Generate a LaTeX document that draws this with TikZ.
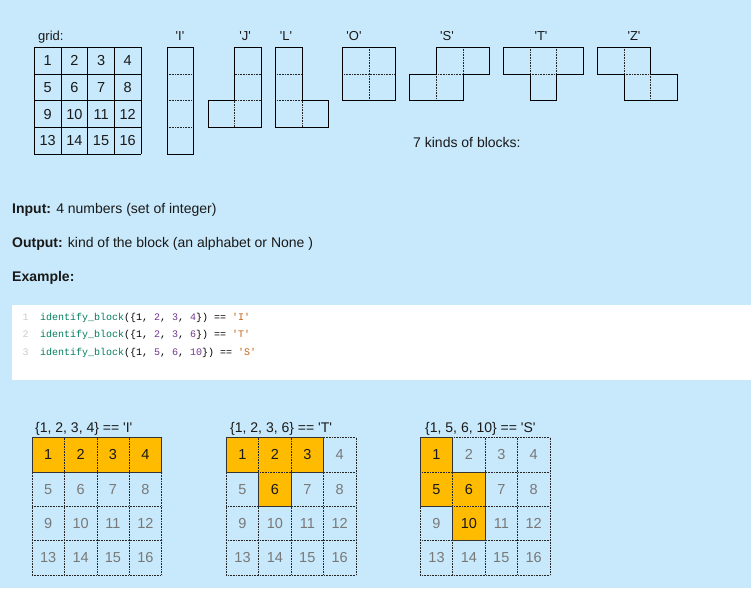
\documentclass[tikz,border=0pt]{standalone}
\usepackage{fontspec}
\setmainfont{Liberation Sans}[Ligatures=TeXOff]
\setmonofont{Liberation Mono}
\usepackage{xcolor}
\definecolor{pagebg}{RGB}{200,233,251}
\definecolor{blockorange}{RGB}{255,187,0}
\definecolor{numgray}{RGB}{120,120,120}
\definecolor{codegreen}{RGB}{0,125,95}
\definecolor{codepurple}{RGB}{115,55,145}
\definecolor{codeorange}{RGB}{195,100,20}
\tikzset{
	txt/.style={inner sep=0pt,anchor=base west,text=black!90,font=\fontsize{14}{16}\selectfont},
	lbl/.style={inner sep=0pt,anchor=base,text=black!90,font=\fontsize{13}{15}\selectfont},
	num/.style={inner sep=0pt,text=black!90,font=\fontsize{14.5}{16}\selectfont},
	dimnum/.style={num,text=numgray},
	solidline/.style={line width=0.8pt,black},
	dotline/.style={dash pattern=on 0.8pt off 0.8pt,line width=0.6pt,black!85},
	hlline/.style={line width=0.9pt,black!80},
	codetext/.style={inner sep=0pt,anchor=base west,text=black,font=\ttfamily\fontsize{10}{12}\selectfont},
	linenum/.style={codetext,anchor=base,text=black!20}
}

\begin{document}
\begin{tikzpicture}[x=1pt,y=-1pt]
	\fill[pagebg] (0,0) rectangle (751,588);
	\useasboundingbox (0,0) rectangle (751,588);
	\fill[white] (12,305) rectangle (751,380);
	
	% numbered grid
	\node[txt,font=\fontsize{13}{15}\selectfont] (gridlbl) at (38,41) {grid:};
	\begin{scope}[shift={(34.3,47.3)},x=26.7pt,y=-26.7pt]
		\foreach \i in {0,...,4} {
			\draw[solidline] (\i,0)--(\i,4);
			\draw[solidline] (0,\i)--(4,\i);
		}
		\foreach \r in {0,...,3}
			\foreach \c in {0,...,3} {
				\pgfmathtruncatemacro\n{4*\r+\c+1}
				\node[num] (g\n) at (\c+.5,\r+.5) {\n};
			}
	\end{scope}
	
	% the seven blocks
	\node[lbl] (lblI) at (180,41) {'I'};
	\begin{scope}[shift={(167,47.3)},x=26.7pt,y=-26.7pt]
		\draw[dotline] (0,1)--(1,1) (0,2)--(1,2) (0,3)--(1,3);
		\draw[solidline] (0,0) rectangle (1,4);
	\end{scope}
	\node[lbl] (lblJ) at (245,41) {'J'};
	\begin{scope}[shift={(208,47.3)},x=26.7pt,y=-26.7pt]
		\draw[dotline] (1,1)--(2,1) (1,2)--(2,2) (1,2)--(1,3);
		\draw[solidline] (1,0)--(2,0)--(2,3)--(0,3)--(0,2)--(1,2)--cycle;
	\end{scope}
	\node[lbl] (lblL) at (286,41) {'L'};
	\begin{scope}[shift={(275.3,47.3)},x=26.7pt,y=-26.7pt]
		\draw[dotline] (0,1)--(1,1) (0,2)--(1,2) (1,2)--(1,3);
		\draw[solidline] (0,0)--(1,0)--(1,2)--(2,2)--(2,3)--(0,3)--cycle;
	\end{scope}
	\node[lbl] (lblO) at (354,41) {'O'};
	\begin{scope}[shift={(342.3,47.3)},x=26.7pt,y=-26.7pt]
		\draw[dotline] (1,0)--(1,2) (0,1)--(2,1);
		\draw[solidline] (0,0) rectangle (2,2);
	\end{scope}
	\node[lbl] (lblS) at (447,41) {'S'};
	\begin{scope}[shift={(409.7,47.3)},x=26.7pt,y=-26.7pt]
		\draw[dotline] (2,0)--(2,1) (1,1)--(2,1) (1,1)--(1,2);
		\draw[solidline] (1,0)--(3,0)--(3,1)--(2,1)--(2,2)--(0,2)--(0,1)--(1,1)--cycle;
	\end{scope}
	\node[lbl] (lblT) at (541,41) {'T'};
	\begin{scope}[shift={(503.3,47.3)},x=26.7pt,y=-26.7pt]
		\draw[dotline] (1,0)--(1,1) (2,0)--(2,1) (1,1)--(2,1);
		\draw[solidline] (0,0)--(3,0)--(3,1)--(2,1)--(2,2)--(1,2)--(1,1)--(0,1)--cycle;
	\end{scope}
	\node[lbl] (lblZ) at (634,41) {'Z'};
	\begin{scope}[shift={(597.3,47.3)},x=26.7pt,y=-26.7pt]
		\draw[dotline] (1,0)--(1,1) (1,1)--(2,1) (2,1)--(2,2);
		\draw[solidline] (0,0)--(2,0)--(2,1)--(3,1)--(3,2)--(1,2)--(1,1)--(0,1)--cycle;
	\end{scope}
	\node[txt] (kinds) at (413,148) {7 kinds of blocks:};
	
	% description
	\node[txt] (input) at (12,213.3) {\textbf{Input:} 4 numbers (set of integer)};
	\node[txt] (output) at (12,247.3) {\textbf{Output:} kind of the block (an alphabet or None )};
	\node[txt] (example) at (12,281.7) {\textbf{Example:}};
	
	% code
	\node[linenum] (ln1) at (25.5,320.5) {1};
	\node[linenum] (ln2) at (25.5,337.5) {2};
	\node[linenum] (ln3) at (25.5,355) {3};
	\node[codetext] (code1) at (40,320.5) {\textcolor{codegreen}{identify\_block}(\{1, \textcolor{codepurple}{2}, \textcolor{codepurple}{3}, \textcolor{codepurple}{4}\}) == \textcolor{codeorange}{'I'}};
	\node[codetext] (code2) at (40,337.5) {\textcolor{codegreen}{identify\_block}(\{1, \textcolor{codepurple}{2}, \textcolor{codepurple}{3}, \textcolor{codepurple}{6}\}) == \textcolor{codeorange}{'T'}};
	\node[codetext] (code3) at (40,355) {\textcolor{codegreen}{identify\_block}(\{1, \textcolor{codepurple}{5}, \textcolor{codepurple}{6}, \textcolor{codepurple}{10}\}) == \textcolor{codeorange}{'S'}};
	
	% example 'I'
	\node[txt] (ex1) at (35,432.7) {\{1, 2, 3, 4\} == 'I'};
	\begin{scope}[shift={(32,437.7)},x=32.4pt,y=-34.3pt]
		\foreach \r in {0,...,3}
			\foreach \c in {0,...,3} {
				\pgfmathtruncatemacro\n{4*\r+\c+1}
				\node[dimnum] (a\n) at (\c+.5,\r+.5) {\n};
			}
		\foreach \n/\c/\r in {1/0/0,2/1/0,3/2/0,4/3/0} {
			\fill[blockorange] (\c,\r) rectangle ++(1,1);
			\node[num] (ah\n) at (\c+.5,\r+.5) {\n};
		}
		\foreach \i in {0,...,4} {
			\draw[dotline] (\i,0)--(\i,4);
			\draw[dotline] (0,\i)--(4,\i);
		}
		\draw[hlline] (0,0) rectangle (4,1);
	\end{scope}
	
	% example 'T'
	\node[txt] (ex2) at (230,432.7) {\{1, 2, 3, 6\} == 'T'};
	\begin{scope}[shift={(226.3,437.7)},x=32.4pt,y=-34.3pt]
		\foreach \r in {0,...,3}
			\foreach \c in {0,...,3} {
				\pgfmathtruncatemacro\n{4*\r+\c+1}
				\node[dimnum] (b\n) at (\c+.5,\r+.5) {\n};
			}
		\foreach \n/\c/\r in {1/0/0,2/1/0,3/2/0,6/1/1} {
			\fill[blockorange] (\c,\r) rectangle ++(1,1);
			\node[num] (bh\n) at (\c+.5,\r+.5) {\n};
		}
		\foreach \i in {0,...,4} {
			\draw[dotline] (\i,0)--(\i,4);
			\draw[dotline] (0,\i)--(4,\i);
		}
		\draw[hlline] (0,0)--(3,0)--(3,1)--(2,1)--(2,2)--(1,2)--(1,1)--(0,1)--cycle;
	\end{scope}
	
	% example 'S'
	\node[txt] (ex3) at (425,432.7) {\{1, 5, 6, 10\} == 'S'};
	\begin{scope}[shift={(420.3,437.7)},x=32.4pt,y=-34.3pt]
		\foreach \r in {0,...,3}
			\foreach \c in {0,...,3} {
				\pgfmathtruncatemacro\n{4*\r+\c+1}
				\node[dimnum] (c\n) at (\c+.5,\r+.5) {\n};
			}
		\foreach \n/\c/\r in {1/0/0,5/0/1,6/1/1,10/1/2} {
			\fill[blockorange] (\c,\r) rectangle ++(1,1);
			\node[num] (ch\n) at (\c+.5,\r+.5) {\n};
		}
		\foreach \i in {0,...,4} {
			\draw[dotline] (\i,0)--(\i,4);
			\draw[dotline] (0,\i)--(4,\i);
		}
		\draw[hlline] (0,0)--(1,0)--(1,1)--(2,1)--(2,3)--(1,3)--(1,2)--(0,2)--cycle;
	\end{scope}
\end{tikzpicture}
\end{document}
